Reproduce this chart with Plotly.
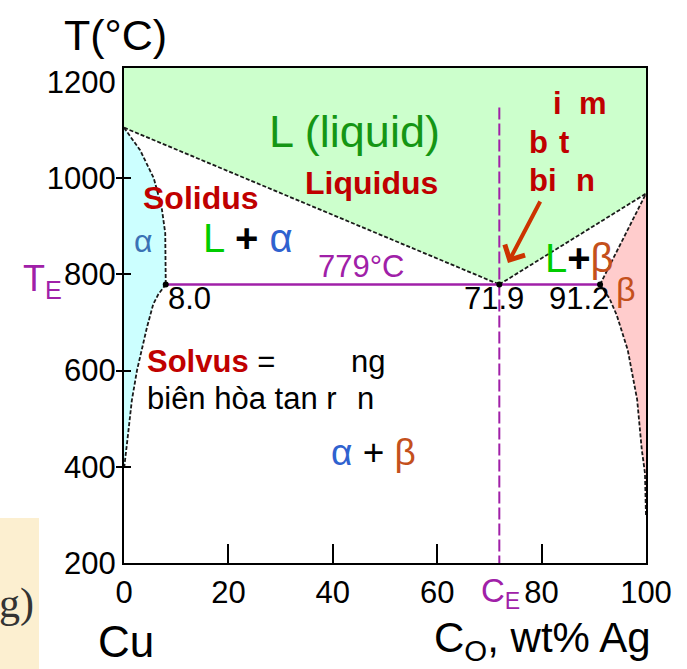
import plotly.graph_objects as go

# ---------------- data (Cu-Ag phase diagram) ----------------
x_ticks = [0, 20, 40, 60, 80, 100]
x_ticktext = ["0", "20", "40", "60", "80", "100"]
y_ticks = [200, 400, 600, 800, 1000, 1200]
y_ticktext = ["200", "400", "600", "800", "1000", "1200"]
y_inner_ticks = [400, 600, 800, 1000]

T_top = 1229
cu_melt = 1105
ag_melt = 968
eut_C = 71.9
eut_T = 779
alpha_max = 8.0
beta_min = 91.2

liq_left_x = [0, 71.9]
liq_left_T = [1105, 779]
liq_right_x = [71.9, 100]
liq_right_T = [779, 968]

sol_a_x = [0, 3.1, 5.7, 7.2, 7.9, 8.0, 8.0]
sol_a_T = [1105, 1058, 1000, 940, 886, 815, 779]
solv_a_x = [8.0, 6.6, 5.6, 4.4, 2.5, 1.5, 0.8, 0.4, 0]
solv_a_T = [779, 759, 738, 690, 601, 538, 470, 428, 395]

sol_b_x = [91.2, 100]
sol_b_T = [779, 968]
solv_b_x = [91.2, 93.0, 94.4, 96.5, 98.3, 99.2, 99.8, 100]
solv_b_T = [779, 750, 715, 643, 540, 435, 387, 296]

inv_x = [8.0, 71.9, 91.2]
inv_T = [779, 779, 779]
ce_T = [1147, 200]

# ---------------- style ----------------
W, H = 687, 669
L, R, T, B = 124, 41, 68, 106
PW, PH = W - L - R, H - T - B
FONT = "Liberation Sans, Arial, sans-serif"
PURPLE = "#a020a8"
DRED = "#c00000"
GREEN_L = "#00cc00"
BLUE = "#2f62cf"
ORANGE = "#c4501c"


def px(x):
    return (x - L) / PW


def py(y):
    return (H - B - y) / PH


fig = go.Figure()

# liquid region
fig.add_trace(go.Scatter(
    x=[0, 100] + liq_right_x[::-1][:1] + liq_left_x[::-1],
    y=[T_top, T_top] + liq_right_T[::-1][:1] + liq_left_T[::-1],
    fill="toself", fillcolor="#ccffcc", line=dict(width=0), mode="lines",
    hoverinfo="skip", showlegend=False))
# alpha region
fig.add_trace(go.Scatter(
    x=sol_a_x + solv_a_x[1:], y=sol_a_T + solv_a_T[1:],
    fill="toself", fillcolor="#ccffff", line=dict(width=0), mode="lines",
    hoverinfo="skip", showlegend=False))
# beta region
fig.add_trace(go.Scatter(
    x=solv_b_x + sol_b_x[::-1], y=solv_b_T + sol_b_T[::-1],
    fill="toself", fillcolor="#ffcccc", line=dict(width=0), mode="lines",
    hoverinfo="skip", showlegend=False))

dash_line = dict(color="#1a1a1a", width=1.8, dash="4px,2px")
for xs, ts in [(liq_left_x, liq_left_T), (liq_right_x, liq_right_T),
               (sol_a_x, sol_a_T), (solv_a_x, solv_a_T),
               (sol_b_x, sol_b_T), (solv_b_x, solv_b_T)]:
    fig.add_trace(go.Scatter(x=xs, y=ts, mode="lines", line=dash_line,
                             hoverinfo="skip", showlegend=False))

# eutectic isotherm
fig.add_trace(go.Scatter(x=[alpha_max, beta_min], y=[eut_T, eut_T], mode="lines",
                         line=dict(color=PURPLE, width=2.5), showlegend=False))
# C_E vertical
fig.add_trace(go.Scatter(x=[eut_C, eut_C], y=ce_T, mode="lines",
                         line=dict(color=PURPLE, width=2, dash="12px,4px"),
                         showlegend=False))
# invariant points
fig.add_trace(go.Scatter(x=inv_x, y=inv_T, mode="markers",
                         marker=dict(color="black", size=6), showlegend=False))
# dummy traces for tick-only axes
fig.add_trace(go.Scatter(x=[None], y=[None], yaxis="y2", showlegend=False))
fig.add_trace(go.Scatter(x=[None], y=[None], yaxis="y3", showlegend=False))

ann = []


def text(x, y, s, size=30, color="black", xanchor="center", family=FONT, yanchor="middle"):
    ann.append(dict(xref="paper", yref="paper", x=px(x), y=py(y), text=s,
                    showarrow=False, xanchor=xanchor, yanchor=yanchor,
                    font=dict(size=size, color=color, family=family)))


text(115, 35, "T(°C)", 43)
text(354, 131, "L (liquid)", 45, "#149614")
text(371, 183, "<b>Liquidus</b>", 32, DRED)
text(201, 198, "<b>Solidus</b>", 32, DRED)
text(248, 238,
     f"<span style='color:{GREEN_L}'>L</span> <b>+</b> <span style='color:{BLUE}'>α</span>",
     40)
text(143, 241, "α", 32, "#3a72b5")
text(42, 281, "T<sub>E</sub>", 36, PURPLE)
text(361, 266, "779°C", 31, PURPLE)
text(166, 298, "8.0", 31, "black", "left")
text(494, 298, "71.9", 31)
text(579, 298, "91.2", 31)
text(579, 258,
     f"<span style='color:{GREEN_L}'>L</span><b>+</b><span style='color:{ORANGE}'>β</span>",
     40)
text(626, 289, "β", 34, ORANGE)
text(373, 452,
     f"<span style='color:{BLUE}'>α</span> + <span style='color:{ORANGE}'>β</span>",
     37)
text(145, 361, f"<b><span style='color:{DRED}'>Solvus</span></b> =", 31, "black", "left")
text(349, 361, "ng", 31, "black", "left")
text(145, 398, "biên hòa tan r", 31, "black", "left")
text(355, 398, "n", 31, "black", "left")
# red bold fragments
text(551, 103, "<b>i</b>", 31, DRED, "left")
text(577, 103, "<b>m</b>", 31, DRED, "left")
text(527, 142, "<b>b</b>", 31, DRED, "left")
text(557, 142, "<b>t</b>", 31, DRED, "left")
text(527, 180, "<b>bi</b>", 31, DRED, "left")
text(574, 180, "<b>n</b>", 31, DRED, "left")
# axis titles
text(500, 593, "C<sub>E</sub>", 33, PURPLE)
text(126, 641, "Cu", 44)
text(542, 640, "C<sub>O</sub>, wt% Ag", 42)
# cropped serif fragment
text(36, 603, "g)", 42, "#333333", "right", "Liberation Serif, DejaVu Serif, serif")

# arrow
ann.append(dict(xref="paper", yref="paper", x=px(508), y=py(263), ax=33, ay=-63,
                text="", showarrow=True, arrowhead=4, arrowsize=1.1,
                arrowwidth=4, arrowcolor="#cc3300", standoff=0))

shapes = [dict(type="rect", xref="paper", yref="paper", x0=px(0), x1=px(39),
               y0=py(669), y1=py(518), fillcolor="#fcefd0", line=dict(width=0),
               layer="below")]

fig.update_layout(
    width=W, height=H, margin=dict(l=L, r=R, t=T, b=B),
    paper_bgcolor="white", plot_bgcolor="white",
    font=dict(family=FONT, color="black"),
    xaxis=dict(range=[0, 100], showgrid=False, zeroline=False, showline=True,
               mirror=True, linecolor="black", linewidth=2,
               ticks="inside", ticklen=19, tickwidth=2, tickcolor="black",
               tickvals=x_ticks, ticktext=x_ticktext, tickfont=dict(size=31),
               ticklabelstandoff=1),
    yaxis=dict(range=[200, T_top], showgrid=False, zeroline=False, showline=True,
               mirror=True, linecolor="black", linewidth=2, ticks="",
               tickvals=y_ticks, ticktext=y_ticktext, tickfont=dict(size=31),
               ticklabelstandoff=0),
    yaxis2=dict(range=[200, T_top], overlaying="y", side="left", showgrid=False,
                zeroline=False, showline=False, ticks="outside", ticklen=7,
                tickwidth=2, tickcolor="black", tickvals=y_inner_ticks,
                showticklabels=False),
    yaxis3=dict(range=[200, T_top], overlaying="y", side="left", showgrid=False,
                zeroline=False, showline=False, ticks="inside", ticklen=7,
                tickwidth=2, tickcolor="black", tickvals=y_inner_ticks,
                showticklabels=False),
    annotations=ann, shapes=shapes,
)

fig.write_html("out.html")
